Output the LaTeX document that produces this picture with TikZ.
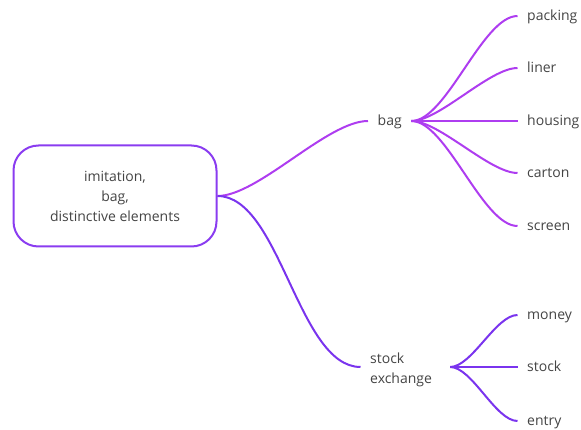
\documentclass[tikz,border=0pt]{standalone}
\usepackage{fontspec}
\setmainfont{Open Sans}
\definecolor{bagc}{HTML}{AE3DF0}
\definecolor{stc}{HTML}{7A34EE}
\definecolor{rootc}{HTML}{8A3CF0}
\definecolor{txt}{HTML}{444444}
\begin{document}
\begin{tikzpicture}[x=1pt,y=-1pt,
  lbl/.style={inner xsep=9.5pt, inner ysep=0pt, text height=1.8ex, text depth=.1ex, anchor=west, text=txt, font=\fontsize{14}{20}\selectfont},
  rootbox/.style={draw=rootc, line width=2pt, rounded corners=25pt, minimum width=203pt, minimum height=101pt, align=center, text=txt, font=\fontsize{14}{20}\selectfont},
  bagline/.style={draw=bagc, line width=2pt},
  stline/.style={draw=stc, line width=2pt}]
\useasboundingbox (0,0) rectangle (581,430);
\node[rootbox] (root) at (115,196) {\raisebox{-1pt}{\parbox{150pt}{\centering imitation,\\bag,\\distinctive elements}}};
\node[lbl] (bag) at (368,121) {bag};
\node[lbl, align=left, text height=, text depth=] (se) at (360.5,370) {stock\\exchange};
\node[lbl] (packing) at (517.5,16) {packing};
\node[lbl] (liner) at (517.5,68) {liner};
\node[lbl] (housing) at (517.5,121) {housing};
\node[lbl] (carton) at (517.5,173) {carton};
\node[lbl] (screen) at (517.5,226) {screen};
\node[lbl] (money) at (517.5,315) {money};
\node[lbl] (stock) at (517.5,367) {stock};
\node[lbl] (entry) at (517.5,421) {entry};
\draw[bagline] (root.east) to[out=0,in=180,looseness=0.62] (bag.west);
\draw[stline] (root.east) to[out=0,in=180,looseness=0.72] ([yshift=3pt]se.west);
\foreach \c in {packing,liner,housing,carton,screen}
  \draw[bagline] (bag.east) to[out=0,in=180,looseness=0.6] (\c.west);
\foreach \c in {money,stock,entry}
  \draw[stline] ([xshift=8.5pt,yshift=3pt]se.east) to[out=0,in=180,looseness=0.65] (\c.west);
\end{tikzpicture}
\end{document}
